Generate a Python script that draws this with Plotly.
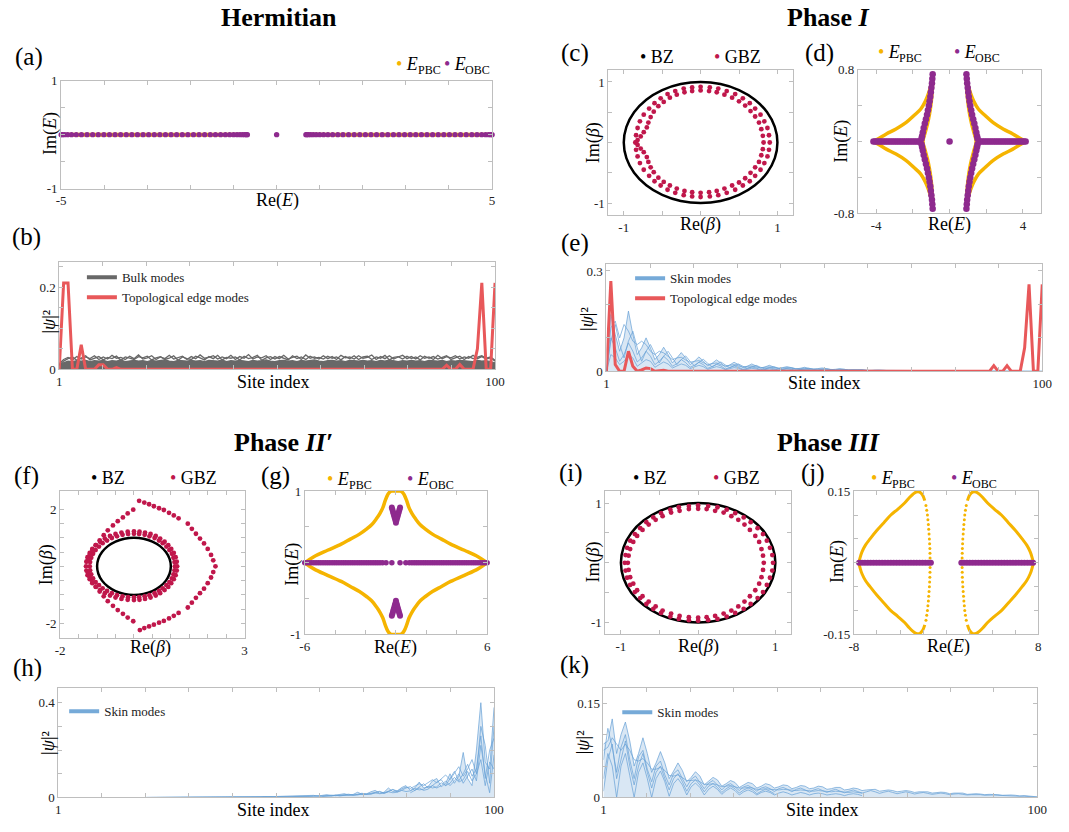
import plotly.graph_objects as go

W, H = 1069, 832
SERIF = "Liberation Serif"

C_PBC = "#F5B400"
C_OBC = "#8E2A8E"
C_GBZ = "#C0174B"
C_BZ = "#000000"
C_EDGE = "#E8585A"
C_BULK = "#686868"
C_SKIN = "rgba(104,162,214,0.9)"
C_SKIN_LEG = "#76AAD8"
C_SKIN_FILL = "rgba(118,170,216,0.28)"
C_AXIS = "#BEBEBE"

# ---------------------------------------------------------------- data
SITES = list(range(1, 101))

# (a) Hermitian spectrum
A_PBC_RE = [-5.0, -0.68, None, 0.68, 5.0]
A_PBC_IM = [0.0, 0.0, None, 0.0, 0.0]
A_OBC_RE = [-5.0, -4.97, -4.92, -4.85, -4.76, -4.65, -4.53, -4.40, -4.27, -4.14,
            -4.01, -3.88, -3.75, -3.62, -3.49, -3.36, -3.23, -3.10, -2.97, -2.84,
            -2.71, -2.58, -2.45, -2.32, -2.19, -2.06, -1.93, -1.80, -1.67, -1.54,
            -1.42, -1.30, -1.19, -1.09, -1.00, -0.92, -0.85, -0.79, -0.74, -0.70,
            -0.68, 0.0, 0.68,
            0.70, 0.74, 0.79, 0.85, 0.92, 1.00, 1.09, 1.19, 1.30, 1.42,
            1.54, 1.67, 1.80, 1.93, 2.06, 2.19, 2.32, 2.45, 2.58, 2.71,
            2.84, 2.97, 3.10, 3.23, 3.36, 3.49, 3.62, 3.75, 3.88, 4.01,
            4.14, 4.27, 4.40, 4.53, 4.65, 4.76, 4.85, 4.92, 4.97, 5.0]
A_OBC_IM = [0, 0, 0, 0, 0, 0, 0, 0, 0, 0,
            0, 0, 0, 0, 0, 0, 0, 0, 0, 0,
            0, 0, 0, 0, 0, 0, 0, 0, 0, 0,
            0, 0, 0, 0, 0, 0, 0, 0, 0, 0,
            0, 0, 0,
            0, 0, 0, 0, 0, 0, 0, 0, 0, 0,
            0, 0, 0, 0, 0, 0, 0, 0, 0, 0,
            0, 0, 0, 0, 0, 0, 0, 0, 0, 0,
            0, 0, 0, 0, 0, 0, 0, 0, 0, 0]

# (b) Hermitian profiles
BULK_FILL = [0.012, 0.017, 0.020, 0.019, 0.021, 0.020, 0.022, 0.019, 0.021, 0.020,
             0.022, 0.019, 0.021, 0.020, 0.023, 0.019, 0.021, 0.022, 0.020, 0.021,
             0.019, 0.022, 0.020, 0.021, 0.023, 0.020, 0.019, 0.022, 0.021, 0.020,
             0.022, 0.020, 0.021, 0.019, 0.022, 0.021, 0.020, 0.023, 0.019, 0.021,
             0.020, 0.022, 0.021, 0.019, 0.022, 0.020, 0.021, 0.023, 0.020, 0.019,
             0.021, 0.022, 0.020, 0.021, 0.019, 0.022, 0.020, 0.021, 0.023, 0.020,
             0.019, 0.021, 0.022, 0.020, 0.021, 0.019, 0.022, 0.021, 0.020, 0.022,
             0.020, 0.021, 0.019, 0.022, 0.020, 0.023, 0.021, 0.019, 0.021, 0.020,
             0.022, 0.020, 0.021, 0.019, 0.022, 0.021, 0.020, 0.022, 0.019, 0.021,
             0.020, 0.022, 0.021, 0.020, 0.019, 0.022, 0.020, 0.021, 0.019, 0.016]
BULK_1 = [0.014, 0.024, 0.029, 0.023, 0.031, 0.025, 0.030, 0.026, 0.033, 0.024,
          0.030, 0.025, 0.034, 0.027, 0.029, 0.024, 0.032, 0.026, 0.035, 0.025,
          0.028, 0.033, 0.024, 0.030, 0.026, 0.034, 0.025, 0.029, 0.032, 0.024,
          0.031, 0.026, 0.035, 0.027, 0.029, 0.033, 0.025, 0.030, 0.026, 0.034,
          0.024, 0.031, 0.027, 0.036, 0.025, 0.030, 0.028, 0.033, 0.024, 0.031,
          0.026, 0.034, 0.025, 0.029, 0.032, 0.024, 0.035, 0.027, 0.030, 0.025,
          0.033, 0.026, 0.031, 0.024, 0.034, 0.028, 0.030, 0.025, 0.033, 0.027,
          0.029, 0.035, 0.024, 0.031, 0.026, 0.033, 0.025, 0.030, 0.034, 0.026,
          0.031, 0.025, 0.033, 0.027, 0.030, 0.024, 0.034, 0.026, 0.031, 0.028,
          0.033, 0.025, 0.030, 0.027, 0.034, 0.026, 0.031, 0.025, 0.028, 0.020]
BULK_2 = [0.010, 0.020, 0.026, 0.030, 0.022, 0.028, 0.033, 0.023, 0.027, 0.031,
          0.023, 0.029, 0.026, 0.032, 0.022, 0.030, 0.027, 0.024, 0.031, 0.028,
          0.032, 0.023, 0.028, 0.031, 0.024, 0.027, 0.033, 0.022, 0.030, 0.026,
          0.024, 0.032, 0.028, 0.023, 0.031, 0.026, 0.034, 0.023, 0.029, 0.027,
          0.030, 0.023, 0.032, 0.026, 0.029, 0.034, 0.022, 0.028, 0.031, 0.025,
          0.031, 0.027, 0.023, 0.033, 0.026, 0.030, 0.024, 0.032, 0.027, 0.029,
          0.025, 0.032, 0.027, 0.030, 0.023, 0.031, 0.026, 0.033, 0.024, 0.030,
          0.032, 0.024, 0.030, 0.027, 0.034, 0.023, 0.029, 0.031, 0.025, 0.032,
          0.026, 0.030, 0.023, 0.032, 0.027, 0.031, 0.025, 0.029, 0.033, 0.024,
          0.029, 0.032, 0.024, 0.031, 0.026, 0.029, 0.033, 0.027, 0.030, 0.022]
EDGE_B = [0.0, 0.21, 0.21, 0.0, 0.0, 0.06, 0.0, 0.0, 0.0, 0.011,
          0.011, 0.0, 0.0, 0.004, 0.0, 0.0, 0.0, 0.0, 0.0, 0.0,
          0.0, 0.0, 0.0, 0.0, 0.0, 0.0, 0.0, 0.0, 0.0, 0.0,
          0.0, 0.0, 0.0, 0.0, 0.0, 0.0, 0.0, 0.0, 0.0, 0.0,
          0.0, 0.0, 0.0, 0.0, 0.0, 0.0, 0.0, 0.0, 0.0, 0.0,
          0.0, 0.0, 0.0, 0.0, 0.0, 0.0, 0.0, 0.0, 0.0, 0.0,
          0.0, 0.0, 0.0, 0.0, 0.0, 0.0, 0.0, 0.0, 0.0, 0.0,
          0.0, 0.0, 0.0, 0.0, 0.0, 0.0, 0.0, 0.0, 0.0, 0.0,
          0.0, 0.0, 0.0, 0.0, 0.0, 0.0, 0.0, 0.0, 0.01, 0.0,
          0.0, 0.012, 0.0, 0.0, 0.0, 0.05, 0.21, 0.0, 0.0, 0.21]

# BZ (unit circle) shared by (c), (f), (i)
BZ_RE = [1.0, 0.966, 0.866, 0.707, 0.5, 0.259, 0.0, -0.259, -0.5, -0.707, -0.866, -0.966, -1.0,
         -0.966, -0.866, -0.707, -0.5, -0.259, 0.0, 0.259, 0.5, 0.707, 0.866, 0.966, 1.0]
BZ_IM = [0.0, 0.259, 0.5, 0.707, 0.866, 0.966, 1.0, 0.966, 0.866, 0.707, 0.5, 0.259, 0.0,
         -0.259, -0.5, -0.707, -0.866, -0.966, -1.0, -0.966, -0.866, -0.707, -0.5, -0.259, 0.0]

# (c) Phase I GBZ
C_GBZ_OUT_RE = [0.90, 0.89, 0.87, 0.83, 0.78, 0.71, 0.64, 0.55, 0.45, 0.34, 0.23, 0.12, 0.00,
                -0.11, -0.22, -0.33, -0.43, -0.52, -0.60, -0.67, -0.74, -0.79, -0.82, -0.84, -0.85,
                -0.84, -0.82, -0.79, -0.74, -0.67, -0.60, -0.52, -0.43, -0.33, -0.22, -0.11, 0.00,
                0.12, 0.23, 0.34, 0.45, 0.55, 0.64, 0.71, 0.78, 0.83, 0.87, 0.89]
C_GBZ_OUT_IM = [0.00, 0.12, 0.24, 0.35, 0.46, 0.56, 0.65, 0.73, 0.80, 0.85, 0.89, 0.91, 0.92,
                0.91, 0.89, 0.85, 0.80, 0.73, 0.65, 0.56, 0.46, 0.35, 0.24, 0.12, 0.00,
                -0.12, -0.23, -0.34, -0.45, -0.55, -0.64, -0.71, -0.78, -0.83, -0.87, -0.89, -0.90,
                -0.89, -0.87, -0.83, -0.78, -0.71, -0.64, -0.55, -0.45, -0.34, -0.23, -0.12]
C_GBZ_IN_RE = [0.82, 0.81, 0.79, 0.76, 0.71, 0.65, 0.58, 0.50, 0.41, 0.31, 0.21, 0.11, 0.00,
               -0.11, -0.21, -0.31, -0.40, -0.48, -0.55, -0.61, -0.65, -0.68, -0.70, -0.74, -0.78, -0.82, -0.84,
               -0.82, -0.78, -0.74, -0.70, -0.68, -0.65, -0.61, -0.55, -0.48, -0.40, -0.31, -0.21, -0.11, 0.00,
               0.11, 0.21, 0.31, 0.41, 0.50, 0.58, 0.65, 0.71, 0.76, 0.79, 0.81]
C_GBZ_IN_IM = [0.00, 0.11, 0.22, 0.33, 0.43, 0.52, 0.61, 0.68, 0.74, 0.79, 0.83, 0.85, 0.86,
               0.85, 0.83, 0.79, 0.74, 0.67, 0.60, 0.51, 0.42, 0.33, 0.25, 0.17, 0.10, 0.04, 0.00,
               -0.04, -0.10, -0.16, -0.24, -0.32, -0.41, -0.49, -0.58, -0.65, -0.71, -0.76, -0.80, -0.82, -0.83,
               -0.82, -0.80, -0.76, -0.71, -0.66, -0.59, -0.50, -0.41, -0.32, -0.21, -0.11]

# (d) Phase I spectra
D_PBC_RE = [-0.92, -1.0, -1.14, -1.32, -1.58, -1.94, -2.38, -2.92, -3.45, -3.89, -4.16,
            -3.89, -3.45, -2.92, -2.38, -1.94, -1.58, -1.32, -1.14, -1.0, -0.92, None,
            -0.92, -0.93, -0.96, -1.01, -1.09, -1.20, -1.33, -1.45, -1.33, -1.20, -1.09, -1.01, -0.96, -0.93, -0.92, None,
            0.92, 1.0, 1.14, 1.32, 1.58, 1.94, 2.38, 2.92, 3.45, 3.89, 4.16,
            3.89, 3.45, 2.92, 2.38, 1.94, 1.58, 1.32, 1.14, 1.0, 0.92, None,
            0.92, 0.93, 0.96, 1.01, 1.09, 1.20, 1.33, 1.45, 1.33, 1.20, 1.09, 1.01, 0.96, 0.93, 0.92]
D_PBC_IM = [0.76, 0.64, 0.54, 0.45, 0.36, 0.29, 0.21, 0.14, 0.085, 0.03, 0.0,
            -0.03, -0.085, -0.14, -0.21, -0.29, -0.36, -0.45, -0.54, -0.64, -0.76, None,
            -0.76, -0.64, -0.53, -0.42, -0.31, -0.2, -0.1, 0.0, 0.1, 0.2, 0.31, 0.42, 0.53, 0.64, 0.76, None,
            0.76, 0.64, 0.54, 0.45, 0.36, 0.29, 0.21, 0.14, 0.085, 0.03, 0.0,
            -0.03, -0.085, -0.14, -0.21, -0.29, -0.36, -0.45, -0.54, -0.64, -0.76, None,
            -0.76, -0.64, -0.53, -0.42, -0.31, -0.2, -0.1, 0.0, 0.1, 0.2, 0.31, 0.42, 0.53, 0.64, 0.76]
D_OBC_H_RE = [-4.15, -4.05, -3.95, -3.85, -3.75, -3.65, -3.55, -3.45, -3.35, -3.25,
              -3.15, -3.05, -2.95, -2.85, -2.75, -2.65, -2.55, -2.45, -2.35, -2.25,
              -2.15, -2.05, -1.95, -1.85, -1.75, -1.65, 0.0,
              1.65, 1.75, 1.85, 1.95, 2.05, 2.15, 2.25, 2.35, 2.45, 2.55,
              2.65, 2.75, 2.85, 2.95, 3.05, 3.15, 3.25, 3.35, 3.45, 3.55,
              3.65, 3.75, 3.85, 3.95, 4.05, 4.15]
D_OBC_H_IM = [0, 0, 0, 0, 0, 0, 0, 0, 0, 0,
              0, 0, 0, 0, 0, 0, 0, 0, 0, 0,
              0, 0, 0, 0, 0, 0, 0,
              0, 0, 0, 0, 0, 0, 0, 0, 0, 0,
              0, 0, 0, 0, 0, 0, 0, 0, 0, 0,
              0, 0, 0, 0, 0, 0]
D_OBC_V_RE = [-0.92, -0.94, -0.96, -0.99, -1.02, -1.05, -1.09, -1.13, -1.18, -1.23, -1.29, -1.35, -1.41, -1.46, -1.50, -1.53,
              -0.92, -0.94, -0.96, -0.99, -1.02, -1.05, -1.09, -1.13, -1.18, -1.23, -1.29, -1.35, -1.41, -1.46, -1.50, -1.53,
              0.92, 0.94, 0.96, 0.99, 1.02, 1.05, 1.09, 1.13, 1.18, 1.23, 1.29, 1.35, 1.41, 1.46, 1.50, 1.53,
              0.92, 0.94, 0.96, 0.99, 1.02, 1.05, 1.09, 1.13, 1.18, 1.23, 1.29, 1.35, 1.41, 1.46, 1.50, 1.53]
D_OBC_V_IM = [0.75, 0.70, 0.65, 0.60, 0.55, 0.50, 0.45, 0.40, 0.35, 0.30, 0.25, 0.20, 0.15, 0.10, 0.06, 0.03,
              -0.75, -0.70, -0.65, -0.60, -0.55, -0.50, -0.45, -0.40, -0.35, -0.30, -0.25, -0.20, -0.15, -0.10, -0.06, -0.03,
              0.75, 0.70, 0.65, 0.60, 0.55, 0.50, 0.45, 0.40, 0.35, 0.30, 0.25, 0.20, 0.15, 0.10, 0.06, 0.03,
              -0.75, -0.70, -0.65, -0.60, -0.55, -0.50, -0.45, -0.40, -0.35, -0.30, -0.25, -0.20, -0.15, -0.10, -0.06, -0.03]

# (e) Phase I profiles
SKIN_E1 = [0.0, 0.17, 0.11, 0.06, 0.10, 0.18, 0.11, 0.05, 0.07, 0.10,
           0.07, 0.035, 0.05, 0.072, 0.05, 0.025, 0.04, 0.056, 0.04, 0.02,
           0.03, 0.043, 0.031, 0.016, 0.024, 0.034, 0.025, 0.013, 0.019, 0.027,
           0.02, 0.011, 0.015, 0.022, 0.016, 0.009, 0.013, 0.018, 0.013, 0.008,
           0.011, 0.014, 0.011, 0.007, 0.009, 0.012, 0.009, 0.006, 0.008, 0.010,
           0.008, 0.005, 0.006, 0.008, 0.006, 0.004, 0.005, 0.006, 0.005, 0.003,
           0.004, 0.005, 0.004, 0.003, 0.003, 0.004, 0.003, 0.002, 0.002, 0.003,
           0.002, 0.002, 0.002, 0.002, 0.0015, 0.0015, 0.0015, 0.0015, 0.001, 0.001,
           0.001, 0.001, 0.001, 0.0008, 0.0008, 0.0008, 0.0007, 0.0006, 0.0006, 0.0005,
           0.0005, 0.0005, 0.0004, 0.0004, 0.0003, 0.0003, 0.0003, 0.0002, 0.0002, 0.0001]
SKIN_E2 = [0.0, 0.09, 0.14, 0.08, 0.04, 0.09, 0.12, 0.07, 0.03, 0.06,
           0.08, 0.05, 0.025, 0.045, 0.06, 0.04, 0.02, 0.035, 0.046, 0.03,
           0.016, 0.027, 0.036, 0.024, 0.013, 0.021, 0.028, 0.019, 0.011, 0.017,
           0.022, 0.015, 0.009, 0.013, 0.018, 0.012, 0.007, 0.011, 0.014, 0.010,
           0.006, 0.009, 0.011, 0.008, 0.005, 0.007, 0.009, 0.006, 0.004, 0.006,
           0.007, 0.005, 0.003, 0.005, 0.006, 0.004, 0.003, 0.004, 0.005, 0.003,
           0.002, 0.003, 0.004, 0.003, 0.002, 0.002, 0.003, 0.002, 0.0015, 0.002,
           0.002, 0.0015, 0.001, 0.0015, 0.0015, 0.001, 0.001, 0.001, 0.001, 0.0008,
           0.0008, 0.0008, 0.0006, 0.0006, 0.0006, 0.0005, 0.0005, 0.0004, 0.0004, 0.0004,
           0.0003, 0.0003, 0.0003, 0.0002, 0.0002, 0.0002, 0.0002, 0.0001, 0.0001, 0.0001]
SKIN_E3 = [0.0, 0.10, 0.07, 0.03, 0.05, 0.085, 0.06, 0.028, 0.04, 0.06,
           0.045, 0.02, 0.03, 0.045, 0.033, 0.015, 0.023, 0.035, 0.026, 0.012,
           0.018, 0.027, 0.02, 0.009, 0.014, 0.021, 0.016, 0.007, 0.011, 0.016,
           0.012, 0.006, 0.009, 0.013, 0.01, 0.005, 0.007, 0.01, 0.008, 0.004,
           0.006, 0.008, 0.006, 0.003, 0.005, 0.006, 0.005, 0.003, 0.004, 0.005,
           0.004, 0.002, 0.003, 0.004, 0.003, 0.002, 0.002, 0.003, 0.002, 0.001]
SKIN_E4 = [0.0, 0.13, 0.15, 0.10, 0.14, 0.12, 0.09, 0.08, 0.09, 0.08,
           0.06, 0.05, 0.06, 0.055, 0.045, 0.035, 0.04, 0.042, 0.034, 0.027,
           0.03, 0.032, 0.026, 0.02, 0.023, 0.025, 0.02, 0.016, 0.018, 0.02,
           0.016, 0.013, 0.015, 0.016, 0.013, 0.011, 0.012, 0.013, 0.011, 0.009,
           0.01, 0.011, 0.009, 0.007, 0.008, 0.009, 0.007, 0.006, 0.007, 0.007,
           0.006, 0.005, 0.005, 0.006, 0.005, 0.004, 0.004, 0.004, 0.003, 0.003]
SKIN_E5 = [0.0, 0.05, 0.04, 0.02, 0.03, 0.05, 0.04, 0.015, 0.025, 0.035,
           0.03, 0.012, 0.02, 0.028, 0.022, 0.01, 0.016, 0.022, 0.018, 0.008,
           0.013, 0.018, 0.014, 0.006, 0.01, 0.014, 0.011, 0.005, 0.008, 0.011,
           0.009, 0.004, 0.006, 0.009, 0.007, 0.003, 0.005, 0.007, 0.005, 0.003,
           0.004, 0.005, 0.004, 0.002, 0.003, 0.004, 0.003, 0.002, 0.003, 0.003,
           0.002, 0.001, 0.002, 0.002, 0.002, 0.001, 0.001, 0.002, 0.001, 0.001]
EDGE_E = [0.0, 0.27, 0.02, 0.0, 0.0, 0.06, 0.015, 0.0, 0.004, 0.01,
          0.008, 0.0, 0.002, 0.003, 0.0, 0.0, 0.0, 0.0, 0.0, 0.0,
          0.0, 0.0, 0.0, 0.0, 0.0, 0.0, 0.0, 0.0, 0.0, 0.0,
          0.0, 0.0, 0.0, 0.0, 0.0, 0.0, 0.0, 0.0, 0.0, 0.0,
          0.0, 0.0, 0.0, 0.0, 0.0, 0.0, 0.0, 0.0, 0.0, 0.0,
          0.0, 0.0, 0.0, 0.0, 0.0, 0.0, 0.0, 0.0, 0.0, 0.0,
          0.0, 0.0, 0.0, 0.0, 0.0, 0.0, 0.0, 0.0, 0.0, 0.0,
          0.0, 0.0, 0.0, 0.0, 0.0, 0.0, 0.0, 0.0, 0.0, 0.0,
          0.0, 0.0, 0.0, 0.0, 0.0, 0.0, 0.0, 0.0, 0.017, 0.0,
          0.0, 0.017, 0.0, 0.0, 0.0, 0.07, 0.26, 0.0, 0.0, 0.26]

# (f) Phase II' GBZ
F_GBZ_A_RE = [1.17, 1.16, 1.13, 1.08, 1.01, 0.93, 0.83, 0.71, 0.59, 0.45, 0.30, 0.15, 0.00,
              -0.17, -0.34, -0.50, -0.65, -0.79, -0.92, -1.03, -1.13, -1.20, -1.26, -1.29, -1.30,
              -1.29, -1.26, -1.20, -1.13, -1.03, -0.92, -0.79, -0.65, -0.50, -0.34, -0.17, 0.00,
              0.15, 0.30, 0.45, 0.59, 0.71, 0.83, 0.93, 1.01, 1.08, 1.13, 1.16]
F_GBZ_A_IM = [0.00, 0.16, 0.32, 0.47, 0.61, 0.74, 0.86, 0.97, 1.06, 1.13, 1.18, 1.21, 1.22,
              1.21, 1.18, 1.13, 1.06, 0.97, 0.86, 0.74, 0.61, 0.47, 0.32, 0.16, 0.00,
              -0.15, -0.31, -0.45, -0.59, -0.72, -0.83, -0.94, -1.02, -1.09, -1.14, -1.17, -1.18,
              -1.17, -1.14, -1.09, -1.02, -0.94, -0.83, -0.72, -0.59, -0.45, -0.31, -0.15]
F_GBZ_B_RE = [1.11, 1.10, 1.07, 1.03, 0.96, 0.88, 0.78, 0.68, 0.56, 0.42, 0.29, 0.14, 0.00,
              -0.16, -0.31, -0.46, -0.60, -0.73, -0.85, -0.95, -1.04, -1.11, -1.16, -1.19, -1.20,
              -1.19, -1.16, -1.11, -1.04, -0.95, -0.85, -0.73, -0.60, -0.46, -0.31, -0.16, 0.00,
              0.14, 0.29, 0.42, 0.56, 0.68, 0.78, 0.88, 0.96, 1.03, 1.07, 1.10]
F_GBZ_B_IM = [0.00, 0.15, 0.30, 0.44, 0.57, 0.69, 0.81, 0.90, 0.99, 1.05, 1.10, 1.13, 1.14,
              1.13, 1.10, 1.05, 0.99, 0.90, 0.81, 0.69, 0.57, 0.44, 0.30, 0.15, 0.00,
              -0.14, -0.28, -0.42, -0.55, -0.66, -0.77, -0.86, -0.94, -1.01, -1.05, -1.08, -1.09,
              -1.08, -1.05, -1.01, -0.94, -0.86, -0.77, -0.66, -0.55, -0.42, -0.28, -0.14]
F_GBZ_C_RE = [0.14, 0.28, 0.41, 0.54, 0.68, 0.81, 0.95, 1.08, 1.21, 1.46, 1.57, 1.68, 1.79, 1.90, 2.00, 2.09, 2.15, 2.21,
              2.15, 2.09, 2.00, 1.90, 1.79, 1.68, 1.57, 1.46, 1.21, 1.08, 0.95, 0.81, 0.68, 0.54, 0.41, 0.28, 0.16,
              -0.02, -0.17, -0.30, -0.44, -0.57, -0.71, -0.82, -0.93, -1.04, -1.13, -1.20, -1.25,
              -1.25, -1.20, -1.13, -1.04, -0.93, -0.82, -0.71, -0.57, -0.44, -0.30, -0.17, -0.02]
F_GBZ_C_IM = [2.29, 2.23, 2.17, 2.10, 2.03, 1.97, 1.87, 1.78, 1.68, 1.49, 1.31, 1.14, 0.97, 0.80, 0.61, 0.40, 0.21, 0.0,
              -0.20, -0.39, -0.59, -0.78, -0.94, -1.10, -1.27, -1.44, -1.63, -1.73, -1.82, -1.91, -1.97, -2.04, -2.10, -2.16, -2.23,
              1.98, 1.85, 1.71, 1.58, 1.43, 1.26, 1.09, 0.91, 0.74, 0.57, 0.40, 0.23,
              -0.22, -0.39, -0.55, -0.71, -0.88, -1.05, -1.22, -1.38, -1.53, -1.66, -1.79, -1.92]

# (g) Phase II' spectra
G_PBC_RE = [6.0, 5.4, 4.5, 3.6, 3.0, 2.4, 1.94, 1.6, 1.3, 1.05, 0.86, 0.7, 0.54, 0.42, 0.3, 0.15, 0.0,
            -0.15, -0.3, -0.42, -0.54, -0.7, -0.86, -1.05, -1.3, -1.6, -1.94, -2.4, -3.0, -3.6, -4.5, -5.4, -6.0, None,
            -6.0, -5.4, -4.5, -3.6, -3.0, -2.4, -1.94, -1.6, -1.3, -1.05, -0.86, -0.7, -0.54, -0.42, -0.3, -0.15, 0.0,
            0.15, 0.3, 0.42, 0.54, 0.7, 0.86, 1.05, 1.3, 1.6, 1.94, 2.4, 3.0, 3.6, 4.5, 5.4, 6.0]
G_PBC_IM = [0.0, 0.085, 0.175, 0.26, 0.33, 0.4, 0.47, 0.53, 0.61, 0.69, 0.77, 0.87, 0.95, 0.985, 1.0, 1.0, 1.0,
            1.0, 1.0, 0.985, 0.95, 0.87, 0.77, 0.69, 0.61, 0.53, 0.47, 0.4, 0.33, 0.26, 0.175, 0.085, 0.0, None,
            0.0, -0.085, -0.175, -0.26, -0.33, -0.4, -0.47, -0.53, -0.61, -0.69, -0.77, -0.87, -0.95, -0.985, -1.0, -1.0, -1.0,
            -1.0, -1.0, -0.985, -0.95, -0.87, -0.77, -0.69, -0.61, -0.53, -0.47, -0.4, -0.33, -0.26, -0.175, -0.085, 0.0]
G_OBC_H_RE = [-6.0, -5.85, -5.7, -5.55, -5.4, -5.25, -5.1, -4.95, -4.8, -4.65,
              -4.5, -4.35, -4.2, -4.05, -3.9, -3.75, -3.6, -3.45, -3.3, -3.15,
              -3.0, -2.85, -2.7, -2.55, -2.4, -2.25, -2.1, -1.95, -1.8, -1.65,
              -1.5, -1.35, -1.2, -1.05, -0.88, -0.65, -0.27,
              0.27, 0.65, 0.88, 1.05, 1.2, 1.35, 1.5,
              1.65, 1.8, 1.95, 2.1, 2.25, 2.4, 2.55, 2.7, 2.85, 3.0,
              3.15, 3.3, 3.45, 3.6, 3.75, 3.9, 4.05, 4.2, 4.35, 4.5,
              4.65, 4.8, 4.95, 5.1, 5.25, 5.4, 5.55, 5.7, 5.85, 6.0]
G_OBC_H_IM = [0, 0, 0, 0, 0, 0, 0, 0, 0, 0,
              0, 0, 0, 0, 0, 0, 0, 0, 0, 0,
              0, 0, 0, 0, 0, 0, 0, 0, 0, 0,
              0, 0, 0, 0, 0, 0, 0,
              0, 0, 0, 0, 0, 0, 0,
              0, 0, 0, 0, 0, 0, 0, 0, 0, 0,
              0, 0, 0, 0, 0, 0, 0, 0, 0, 0,
              0, 0, 0, 0, 0, 0, 0, 0, 0, 0]
G_OBC_V_RE = [-0.27, -0.23, -0.19, -0.15, -0.11, -0.07, -0.03, 0.0, 0.03, 0.07, 0.11, 0.15, 0.19, 0.23, 0.27,
              -0.27, -0.23, -0.19, -0.15, -0.11, -0.07, -0.03, 0.0, 0.03, 0.07, 0.11, 0.15, 0.19, 0.23, 0.27]
G_OBC_V_IM = [0.77, 0.74, 0.71, 0.68, 0.65, 0.62, 0.59, 0.56, 0.59, 0.62, 0.65, 0.68, 0.71, 0.74, 0.77,
              -0.74, -0.71, -0.68, -0.65, -0.62, -0.59, -0.56, -0.53, -0.56, -0.59, -0.62, -0.65, -0.68, -0.71, -0.74]

# (h) Phase II' profiles (sites 21..100)
SKIN_H1 = [0.0002, 0.0002, 0.0003, 0.0002, 0.0003, 0.0004, 0.0005, 0.0003, 0.0004, 0.0006,
           0.0008, 0.0005, 0.0007, 0.001, 0.0007, 0.0008, 0.0012, 0.0015, 0.001, 0.0012,
           0.002, 0.0014, 0.0015, 0.0022, 0.003, 0.002, 0.0025, 0.004, 0.0028, 0.003,
           0.0045, 0.005, 0.0035, 0.005, 0.007, 0.005, 0.005, 0.007, 0.009, 0.006,
           0.008, 0.012, 0.008, 0.009, 0.013, 0.016, 0.01, 0.013, 0.022, 0.014,
           0.015, 0.024, 0.03, 0.018, 0.022, 0.04, 0.025, 0.027, 0.042, 0.05,
           0.03, 0.04, 0.065, 0.04, 0.045, 0.07, 0.08, 0.045, 0.06, 0.1,
           0.06, 0.09, 0.19, 0.08, 0.05, 0.2, 0.40, 0.15, 0.12, 0.38]
SKIN_H2 = [0.0001, 0.0002, 0.0002, 0.0003, 0.0002, 0.0003, 0.0002, 0.0004, 0.0003, 0.0003,
           0.0005, 0.0006, 0.0004, 0.0006, 0.0008, 0.0006, 0.0008, 0.001, 0.0012, 0.0009,
           0.0013, 0.0018, 0.0012, 0.0016, 0.002, 0.0025, 0.0018, 0.0022, 0.0032, 0.0025,
           0.003, 0.004, 0.005, 0.0035, 0.0045, 0.006, 0.0045, 0.005, 0.007, 0.008,
           0.0055, 0.0075, 0.01, 0.0075, 0.009, 0.012, 0.014, 0.009, 0.013, 0.018,
           0.013, 0.016, 0.022, 0.026, 0.017, 0.025, 0.034, 0.024, 0.03, 0.04,
           0.046, 0.03, 0.045, 0.058, 0.04, 0.05, 0.065, 0.075, 0.05, 0.08,
           0.11, 0.07, 0.1, 0.14, 0.09, 0.12, 0.26, 0.08, 0.2, 0.25]
SKIN_H3 = [0.0001, 0.0001, 0.0002, 0.0001, 0.0002, 0.0002, 0.0003, 0.0003, 0.0002, 0.0004,
           0.0004, 0.0003, 0.0005, 0.0006, 0.0005, 0.0006, 0.0008, 0.0007, 0.0008, 0.001,
           0.0009, 0.001, 0.0013, 0.0012, 0.0014, 0.0018, 0.0016, 0.0018, 0.0024, 0.002,
           0.0024, 0.0032, 0.0028, 0.003, 0.0042, 0.0036, 0.004, 0.0055, 0.0048, 0.0052,
           0.007, 0.0062, 0.0066, 0.009, 0.0078, 0.0085, 0.012, 0.01, 0.011, 0.015,
           0.013, 0.014, 0.019, 0.016, 0.018, 0.024, 0.02, 0.022, 0.03, 0.025,
           0.028, 0.038, 0.032, 0.035, 0.048, 0.04, 0.045, 0.062, 0.05, 0.06,
           0.085, 0.065, 0.075, 0.11, 0.07, 0.1, 0.16, 0.05, 0.15, 0.12]
SKIN_H4 = [0.006, 0.005, 0.007, 0.009, 0.007, 0.009, 0.012, 0.011, 0.012, 0.016,
           0.017, 0.015, 0.02, 0.024, 0.02, 0.027, 0.033, 0.028, 0.036, 0.044,
           0.038, 0.048, 0.058, 0.05, 0.062, 0.075, 0.062, 0.08, 0.095, 0.075,
           0.1, 0.13, 0.09, 0.12, 0.16, 0.1, 0.3, 0.22, 0.06, 0.3]
SKIN_H5 = [0.02, 0.03, 0.04, 0.03, 0.035, 0.05, 0.04, 0.05, 0.07, 0.05,
           0.07, 0.1, 0.06, 0.09, 0.12, 0.07, 0.22, 0.1, 0.02, 0.18]

# (i) Phase III GBZ
I_GBZ_OUT_RE = [0.97, 0.96, 0.93, 0.89, 0.84, 0.77, 0.68, 0.59, 0.48, 0.37, 0.25, 0.13, 0.00,
                -0.12, -0.25, -0.36, -0.48, -0.58, -0.67, -0.75, -0.82, -0.88, -0.92, -0.94, -0.95,
                -0.94, -0.92, -0.88, -0.82, -0.75, -0.67, -0.58, -0.48, -0.36, -0.25, -0.12, 0.00,
                0.13, 0.25, 0.37, 0.48, 0.59, 0.68, 0.77, 0.84, 0.89, 0.93, 0.96]
I_GBZ_OUT_IM = [0.00, 0.13, 0.25, 0.37, 0.48, 0.58, 0.68, 0.76, 0.83, 0.89, 0.93, 0.95, 0.96,
                0.95, 0.93, 0.89, 0.83, 0.76, 0.68, 0.58, 0.48, 0.37, 0.25, 0.13, 0.00,
                -0.13, -0.25, -0.37, -0.49, -0.59, -0.69, -0.77, -0.84, -0.90, -0.94, -0.96, -0.97,
                -0.96, -0.94, -0.90, -0.84, -0.77, -0.69, -0.59, -0.49, -0.37, -0.25, -0.13]
I_GBZ_IN_RE = [0.85, 0.84, 0.82, 0.79, 0.74, 0.67, 0.60, 0.52, 0.43, 0.33, 0.22, 0.11, 0.00,
               -0.12, -0.24, -0.35, -0.46, -0.55, -0.64, -0.72, -0.79, -0.84, -0.88, -0.90, -0.91,
               -0.90, -0.88, -0.84, -0.79, -0.72, -0.64, -0.55, -0.46, -0.35, -0.24, -0.12, 0.00,
               0.11, 0.22, 0.33, 0.43, 0.52, 0.60, 0.67, 0.74, 0.79, 0.82, 0.84]
I_GBZ_IN_IM = [0.00, 0.12, 0.23, 0.35, 0.45, 0.55, 0.64, 0.72, 0.78, 0.84, 0.87, 0.90, 0.905,
               0.90, 0.87, 0.84, 0.78, 0.72, 0.64, 0.55, 0.45, 0.35, 0.23, 0.12, 0.00,
               -0.12, -0.24, -0.35, -0.46, -0.56, -0.65, -0.73, -0.80, -0.85, -0.89, -0.91, -0.92,
               -0.91, -0.89, -0.85, -0.80, -0.73, -0.65, -0.56, -0.46, -0.35, -0.24, -0.12]

# (j) Phase III spectra
J_PBC_RE = [1.85, 2.05, 2.3, 2.6, 2.9, 3.2, 3.6, 4.2, 4.8, 5.4, 6.0, 6.6, 7.0, 7.3, 7.45, 7.56,
            7.45, 7.3, 7.0, 6.6, 6.0, 5.4, 4.8, 4.2, 3.6, 3.2, 2.9, 2.6, 2.3, 2.05, 1.85, None,
            -1.85, -2.05, -2.3, -2.6, -2.9, -3.2, -3.6, -4.2, -4.8, -5.4, -6.0, -6.6, -7.0, -7.3, -7.45, -7.56,
            -7.45, -7.3, -7.0, -6.6, -6.0, -5.4, -4.8, -4.2, -3.6, -3.2, -2.9, -2.6, -2.3, -2.05, -1.85]
J_PBC_IM = [0.13, 0.142, 0.148, 0.148, 0.143, 0.136, 0.125, 0.112, 0.1, 0.084, 0.068, 0.05, 0.037, 0.023, 0.012, 0.0,
            -0.012, -0.023, -0.037, -0.05, -0.068, -0.084, -0.1, -0.112, -0.125, -0.136, -0.143, -0.148, -0.148, -0.142, -0.13, None,
            0.13, 0.142, 0.148, 0.148, 0.143, 0.136, 0.125, 0.112, 0.1, 0.084, 0.068, 0.05, 0.037, 0.023, 0.012, 0.0,
            -0.012, -0.023, -0.037, -0.05, -0.068, -0.084, -0.1, -0.112, -0.125, -0.136, -0.143, -0.148, -0.148, -0.142, -0.13]
J_PBC_DOT_RE = [1.75, 1.68, 1.62, 1.58, 1.54, 1.51, 1.48, 1.45, 1.43, 1.41, 1.40, 1.39, 1.39,
                1.39, 1.40, 1.41, 1.43, 1.45, 1.48, 1.51, 1.54, 1.58, 1.62, 1.68, 1.75,
                -1.75, -1.68, -1.62, -1.58, -1.54, -1.51, -1.48, -1.45, -1.43, -1.41, -1.40, -1.39, -1.39,
                -1.39, -1.40, -1.41, -1.43, -1.45, -1.48, -1.51, -1.54, -1.58, -1.62, -1.68, -1.75]
J_PBC_DOT_IM = [0.12, 0.11, 0.10, 0.09, 0.08, 0.07, 0.06, 0.05, 0.04, 0.03, 0.02, 0.01, 0.0,
                -0.01, -0.02, -0.03, -0.04, -0.05, -0.06, -0.07, -0.08, -0.09, -0.10, -0.11, -0.12,
                0.12, 0.11, 0.10, 0.09, 0.08, 0.07, 0.06, 0.05, 0.04, 0.03, 0.02, 0.01, 0.0,
                -0.01, -0.02, -0.03, -0.04, -0.05, -0.06, -0.07, -0.08, -0.09, -0.10, -0.11, -0.12]
J_OBC_RE = [-7.55, -7.3, -7.05, -6.8, -6.55, -6.3, -6.05, -5.8, -5.55, -5.3,
            -5.05, -4.8, -4.55, -4.3, -4.05, -3.8, -3.55, -3.3, -3.05, -2.8,
            -2.55, -2.3, -2.05, -1.8, -1.55, -1.32,
            1.32, 1.55, 1.8, 2.05, 2.3, 2.55, 2.8, 3.05, 3.3, 3.55,
            3.8, 4.05, 4.3, 4.55, 4.8, 5.05, 5.3, 5.55, 5.8, 6.05,
            6.3, 6.55, 6.8, 7.05, 7.3, 7.55]
J_OBC_IM = [0, 0, 0, 0, 0, 0, 0, 0, 0, 0,
            0, 0, 0, 0, 0, 0, 0, 0, 0, 0,
            0, 0, 0, 0, 0, 0,
            0, 0, 0, 0, 0, 0, 0, 0, 0, 0,
            0, 0, 0, 0, 0, 0, 0, 0, 0, 0,
            0, 0, 0, 0, 0, 0]

# (k) Phase III profiles
SKIN_K1 = [0.085, 0.09, 0.125, 0.07, 0.1, 0.12, 0.09, 0.05, 0.07, 0.095,
           0.07, 0.04, 0.055, 0.073, 0.055, 0.03, 0.042, 0.055, 0.043, 0.025,
           0.032, 0.041, 0.034, 0.02, 0.026, 0.032, 0.028, 0.018, 0.022, 0.027,
           0.024, 0.016, 0.02, 0.024, 0.022, 0.015, 0.018, 0.022, 0.02, 0.015,
           0.017, 0.02, 0.019, 0.014, 0.016, 0.019, 0.018, 0.014, 0.015, 0.018,
           0.017, 0.013, 0.014, 0.016, 0.016, 0.012, 0.013, 0.015, 0.014, 0.011,
           0.012, 0.013, 0.013, 0.01, 0.011, 0.012, 0.011, 0.009, 0.01, 0.011,
           0.01, 0.008, 0.009, 0.0095, 0.009, 0.007, 0.008, 0.0085, 0.008, 0.006,
           0.007, 0.0075, 0.007, 0.005, 0.006, 0.006, 0.0055, 0.0045, 0.005, 0.005,
           0.0045, 0.0035, 0.004, 0.004, 0.0035, 0.0025, 0.003, 0.0025, 0.002, 0.001]
SKIN_K2 = [0.06, 0.11, 0.08, 0.04, 0.08, 0.1, 0.06, 0.03, 0.065, 0.075,
           0.045, 0.025, 0.05, 0.058, 0.036, 0.02, 0.038, 0.044, 0.03, 0.017,
           0.029, 0.034, 0.024, 0.014, 0.023, 0.027, 0.02, 0.012, 0.019, 0.022,
           0.017, 0.011, 0.017, 0.019, 0.015, 0.01, 0.015, 0.017, 0.014, 0.0095,
           0.014, 0.016, 0.013, 0.009, 0.013, 0.015, 0.012, 0.0085, 0.012, 0.014,
           0.011, 0.008, 0.011, 0.013, 0.01, 0.0075, 0.01, 0.012, 0.0095, 0.007,
           0.009, 0.011, 0.009, 0.0065, 0.0085, 0.01, 0.008, 0.006, 0.0075, 0.009,
           0.0075, 0.0055, 0.007, 0.008, 0.0065, 0.005, 0.006, 0.007, 0.006, 0.0045,
           0.0055, 0.006, 0.005, 0.004, 0.0045, 0.005, 0.0045, 0.0035, 0.004, 0.004,
           0.0035, 0.003, 0.003, 0.003, 0.0025, 0.002, 0.002, 0.0015, 0.001, 0.0005]
SKIN_K3 = [0.03, 0.07, 0.05, 0.0, 0.05, 0.07, 0.035, 0.0, 0.04, 0.055,
           0.03, 0.0, 0.03, 0.042, 0.025, 0.002, 0.022, 0.03, 0.02, 0.004,
           0.017, 0.023, 0.016, 0.004, 0.013, 0.018, 0.013, 0.005, 0.011, 0.015,
           0.011, 0.004, 0.009, 0.012, 0.009, 0.004, 0.008, 0.01, 0.008, 0.004,
           0.007, 0.009, 0.007, 0.004, 0.006, 0.008, 0.0065, 0.004, 0.006, 0.007,
           0.006, 0.004, 0.005, 0.006, 0.005, 0.003, 0.005, 0.006, 0.005, 0.003]
SKIN_K4 = [0.075, 0.08, 0.095, 0.085, 0.075, 0.085, 0.075, 0.06, 0.058, 0.062,
           0.055, 0.045, 0.045, 0.048, 0.043, 0.035, 0.034, 0.036, 0.032, 0.027,
           0.027, 0.028, 0.025, 0.021, 0.021, 0.022, 0.02, 0.017, 0.018, 0.019,
           0.017, 0.015, 0.015, 0.016, 0.015, 0.013, 0.013, 0.014, 0.013, 0.012,
           0.012, 0.013, 0.012, 0.011, 0.011, 0.012, 0.011, 0.01, 0.01, 0.011,
           0.01, 0.009, 0.009, 0.01, 0.009, 0.008, 0.008, 0.009, 0.008, 0.007]
SKIN_K5 = [0.01, 0.06, 0.085, 0.03, 0.06, 0.09, 0.05, 0.02, 0.05, 0.07,
           0.04, 0.015, 0.04, 0.05, 0.03, 0.012, 0.03, 0.038, 0.025, 0.01,
           0.022, 0.028, 0.02, 0.009, 0.018, 0.022, 0.016, 0.008, 0.014, 0.018,
           0.014, 0.007, 0.012, 0.015, 0.012, 0.006, 0.01, 0.013, 0.01, 0.006]

# ---------------------------------------------------------------- layout helpers
AX = dict(showline=True, linecolor=C_AXIS, linewidth=1, mirror="ticks", ticks="inside",
          ticklen=4, tickwidth=1, tickcolor=C_AXIS, showgrid=False, zeroline=False,
          tickfont=dict(family=SERIF, size=13, color="#222"), fixedrange=True)

layout_axes = {}


def add_axes(n, box, xr, yr, xlab, xminor, ylab, yminor):
    x0, x1, y0, y1 = box
    sx = "" if n == 1 else str(n)
    mn = lambda vals: dict(tickmode="array", tickvals=vals, ticks="inside", ticklen=4,
                           tickwidth=1, tickcolor=C_AXIS, showgrid=False)
    layout_axes["xaxis" + sx] = dict(AX, domain=[x0 / W, x1 / W], range=xr, anchor="y" + sx,
                                     tickmode="array", tickvals=[v for v, _ in xlab],
                                     ticktext=[t for _, t in xlab], minor=mn(xminor))
    layout_axes["yaxis" + sx] = dict(AX, domain=[1 - y1 / H, 1 - y0 / H], range=yr, anchor="x" + sx,
                                     tickmode="array", tickvals=[v for v, _ in ylab],
                                     ticktext=[t for _, t in ylab], minor=mn(yminor))


def ax(n):
    sx = "" if n == 1 else str(n)
    return dict(xaxis="x" + sx, yaxis="y" + sx)


SITE_LAB = [(1, "1"), (100, "100")]
SITE_MINOR = [10.9, 20.8, 30.7, 40.6, 50.5, 60.4, 70.3, 80.2, 90.1]

add_axes(1, (57, 494, 75, 185), [-5, 5], [-1, 1],
         [(-5, "-5"), (5, "5")], [-4, -3, -2, -1, 0, 1, 2, 3, 4],
         [(-1, "-1"), (1, "1")], [-0.5, 0, 0.5])
add_axes(2, (55, 497, 260, 369), [1, 100], [0, 0.26], SITE_LAB, SITE_MINOR,
         [(0, "0"), (0.2, "0.2")], [0.05, 0.1, 0.15, 0.25])
add_axes(3, (612, 799, 64, 212), [-1.2, 1.2], [-1.2, 1.2],
         [(-1, "-1"), (1, "1")], [-0.5, 0, 0.5], [(-1, "-1"), (1, "1")], [-0.5, 0, 0.5])
add_axes(4, (865, 1051, 64, 210), [-5, 5], [-0.8, 0.8],
         [(-4, "-4"), (4, "4")], [-2, 0, 2], [(-0.8, "-0.8"), (0.8, "0.8")], [-0.4, 0, 0.4])
add_axes(5, (610, 1052, 262, 371), [1, 100], [0, 0.32], SITE_LAB, SITE_MINOR,
         [(0, "0"), (0.3, "0.3")], [0.1, 0.2])
add_axes(6, (56, 243, 493, 643), [-2, 3], [-2.52, 2.63],
         [(-2, "-2"), (3, "3")], [-1.5, -1, -0.5, 0, 0.5, 1, 1.5, 2, 2.5],
         [(-2, "-2"), (2, "2")], [-1.5, -1, -0.5, 0, 0.5, 1, 1.5])
add_axes(7, (304, 489, 493, 639), [-6, 6], [-1, 1],
         [(-6, "-6"), (6, "6")], [-4, -2, 0, 2, 4], [(-1, "-1"), (1, "1")], [-0.5, 0, 0.5])
add_axes(8, (54, 496, 694, 805), [1, 100], [0, 0.46], SITE_LAB, SITE_MINOR,
         [(0, "0"), (0.4, "0.4")], [0.1, 0.2, 0.3])
add_axes(9, (609, 797, 493, 639), [-1.2, 1.2], [-1.2, 1.2],
         [(-1, "-1"), (1, "1")], [-0.5, 0, 0.5], [(-1, "-1"), (1, "1")], [-0.5, 0, 0.5])
add_axes(10, (861, 1048, 493, 639), [-8, 8], [-0.15, 0.15],
         [(-8, "-8"), (8, "8")], [-6, -4, -2, 0, 2, 4, 6],
         [(-0.15, "-0.15"), (0.15, "0.15")], [-0.1, -0.05, 0, 0.05, 0.1])
add_axes(11, (607, 1047, 693, 805), [1, 100], [0, 0.175], SITE_LAB, SITE_MINOR,
         [(0, "0"), (0.15, "0.15")], [0.05, 0.1])

fig = go.Figure()


def dots(n, xs, ys, color, size, **kw):
    fig.add_trace(go.Scatter(x=xs, y=ys, mode="markers", marker=dict(color=color, size=size, line=dict(width=0)),
                             showlegend=False, cliponaxis=False, hoverinfo="skip", **ax(n), **kw))


def curve(n, xs, ys, color, width, shape="linear", **kw):
    fig.add_trace(go.Scatter(x=xs, y=ys, mode="lines", line=dict(color=color, width=width, shape=shape),
                             showlegend=False, cliponaxis=False, hoverinfo="skip", **ax(n), **kw))


def legend_line(n, name, color, width, legend):
    fig.add_trace(go.Scatter(x=[None], y=[None], mode="lines", line=dict(color=color, width=width),
                             name=name, showlegend=True, legend=legend, **ax(n)))


# (a)
curve(1, A_PBC_RE, A_PBC_IM, C_PBC, 4)
dots(1, A_OBC_RE, A_OBC_IM, C_OBC, 5.4)

# (b)
legend_line(2, "Bulk modes", C_BULK, 4, "legend")
curve(2, SITES, BULK_FILL, C_BULK, 1.2, fill="tozeroy", fillcolor=C_BULK)
curve(2, SITES, BULK_2, C_BULK, 1.3)
curve(2, SITES, BULK_1, C_BULK, 1.3)
legend_line(2, "Topological edge modes", C_EDGE, 4, "legend")
curve(2, SITES, EDGE_B, C_EDGE, 3)

# (c)
curve(3, BZ_RE, BZ_IM, C_BZ, 2.5, shape="spline")
dots(3, C_GBZ_OUT_RE, C_GBZ_OUT_IM, C_GBZ, 4.8)
dots(3, C_GBZ_IN_RE, C_GBZ_IN_IM, C_GBZ, 4.8)

# (d)
curve(4, D_PBC_RE, D_PBC_IM, C_PBC, 3.5, shape="spline")
dots(4, D_OBC_H_RE, D_OBC_H_IM, C_OBC, 6.5)
dots(4, D_OBC_V_RE, D_OBC_V_IM, C_OBC, 6.5)

# (e)
legend_line(5, "Skin modes", C_SKIN_LEG, 4, "legend2")
curve(5, SITES, SKIN_E1, C_SKIN, 0.8, fill="tozeroy", fillcolor=C_SKIN_FILL)
curve(5, SITES, SKIN_E2, C_SKIN, 0.8)
curve(5, SITES[:60], SKIN_E3, C_SKIN, 0.8)
curve(5, SITES[:60], SKIN_E4, C_SKIN, 0.8)
curve(5, SITES[:60], SKIN_E5, C_SKIN, 0.8)
legend_line(5, "Topological edge modes", C_EDGE, 4, "legend2")
curve(5, SITES, EDGE_E, C_EDGE, 3)

# (f)
curve(6, BZ_RE, BZ_IM, C_BZ, 2.5, shape="spline")
dots(6, F_GBZ_A_RE, F_GBZ_A_IM, C_GBZ, 4.8)
dots(6, F_GBZ_B_RE, F_GBZ_B_IM, C_GBZ, 4.8)
dots(6, F_GBZ_C_RE, F_GBZ_C_IM, C_GBZ, 4.8)

# (g)
curve(7, G_PBC_RE, G_PBC_IM, C_PBC, 3.5, shape="spline")
dots(7, G_OBC_H_RE, G_OBC_H_IM, C_OBC, 5.5)
dots(7, G_OBC_V_RE, G_OBC_V_IM, C_OBC, 6)

# (h)
legend_line(8, "Skin modes", C_SKIN_LEG, 4, "legend3")
curve(8, SITES[20:], SKIN_H1, C_SKIN, 0.8, fill="tozeroy", fillcolor=C_SKIN_FILL)
curve(8, SITES[20:], SKIN_H2, C_SKIN, 0.8)
curve(8, SITES[20:], SKIN_H3, C_SKIN, 0.8)
curve(8, SITES[60:], SKIN_H4, C_SKIN, 0.8)
curve(8, SITES[80:], SKIN_H5, C_SKIN, 0.8)

# (i)
curve(9, BZ_RE, BZ_IM, C_BZ, 2.5, shape="spline")
dots(9, I_GBZ_OUT_RE, I_GBZ_OUT_IM, C_GBZ, 4.8)
dots(9, I_GBZ_IN_RE, I_GBZ_IN_IM, C_GBZ, 4.8)

# (j)
curve(10, J_PBC_RE, J_PBC_IM, C_PBC, 3, shape="spline")
dots(10, J_PBC_DOT_RE, J_PBC_DOT_IM, C_PBC, 3)
dots(10, J_OBC_RE, J_OBC_IM, C_OBC, 6)

# (k)
legend_line(11, "Skin modes", C_SKIN_LEG, 4, "legend4")
curve(11, SITES, SKIN_K1, C_SKIN, 0.8, fill="tozeroy", fillcolor=C_SKIN_FILL)
curve(11, SITES, SKIN_K2, C_SKIN, 0.8)
curve(11, SITES[:60], SKIN_K3, C_SKIN, 0.8)
curve(11, SITES[:60], SKIN_K4, C_SKIN, 0.8)
curve(11, SITES[:40], SKIN_K5, C_SKIN, 0.8)

# ---------------------------------------------------------------- text
ann = []


def txt(x, y, s, size=18, angle=0, anchor="center"):
    ann.append(dict(x=x / W, y=1 - y / H, xref="paper", yref="paper", text=s, showarrow=False,
                    font=dict(family=SERIF, size=size, color="black"), textangle=angle,
                    xanchor=anchor, yanchor="middle"))


# titles
txt(278, 11, "<b>Hermitian</b>", 26)
txt(835, 11, "<b>Phase <i>I</i></b>", 26)
txt(282, 443, "<b>Phase <i>II′</i></b>", 26)
txt(835, 443, "<b>Phase <i>III</i></b>", 26)

# panel labels
for lab, x, y in [("(a)", 24, 51), ("(b)", 22, 234), ("(c)", 578, 47), ("(d)", 826, 47),
                  ("(e)", 578, 240), ("(f)", 22, 478), ("(g)", 274, 478), ("(h)", 23, 673),
                  ("(i)", 574, 475), ("(j)", 820, 475), ("(k)", 578, 670)]:
    txt(x, y, lab, 25)

RE_E = "Re(<i>E</i>)"
IM_E = "Im(<i>E</i>)"
RE_B = "Re(<i>β</i>)"
IM_B = "Im(<i>β</i>)"
PSI = "|<i>ψ</i>|²"
SITE = "Site index"
for s, x, y, a in [(RE_E, 276, 197, 0), (IM_E, 46, 129, -90),
                   (SITE, 272, 382, 0), (PSI, 45, 320, -90),
                   (RE_B, 705, 222, 0), (IM_B, 597, 138, -90),
                   (RE_E, 958, 222, 0), (IM_E, 848, 137, -90),
                   (SITE, 831, 383, 0), (PSI, 591, 318, -90),
                   (RE_B, 148, 652, 0), (IM_B, 42, 568, -90),
                   (RE_E, 396, 652, 0), (IM_E, 292, 567, -90),
                   (SITE, 272, 818, 0), (PSI, 44, 749, -90),
                   (RE_B, 703, 651, 0), (IM_B, 597, 565, -90),
                   (RE_E, 957, 651, 0), (IM_E, 845, 565, -90),
                   (SITE, 829, 818, 0), (PSI, 587, 749, -90)]:
    txt(x, y, s, 18, a)


def legend_entry(x, y, color, label, sub=None, size=18):
    txt(x, y, '<span style="color:%s">•</span> %s' % (color, label), size, 0, "left")
    if sub:
        txt(x + 22, y + 6, sub, 12, 0, "left")


E_IT = "<i>E</i>"
for x1, x2, y, kind in [(395, 443, 58, "E"), (642, 717, 51, "BZ"), (883, 960, 46, "E"),
                        (85, 165, 480, "BZ"), (325, 406, 481, "E"), (635, 716, 480, "BZ"),
                        (876, 957, 480, "E")]:
    if kind == "E":
        legend_entry(x1, y, C_PBC, E_IT, "PBC")
        legend_entry(x2, y, C_OBC, E_IT, "OBC")
    else:
        legend_entry(x1, y, C_BZ, "BZ")
        legend_entry(x2, y, C_GBZ, "GBZ")


def leg(xpx, ypx):
    return dict(x=xpx / W, y=1 - ypx / H, xanchor="left", yanchor="top", bgcolor="rgba(0,0,0,0)",
                borderwidth=0, font=dict(family=SERIF, size=13, color="#222"), tracegroupgap=0,
                itemwidth=30, orientation="v")


fig.update_layout(
    width=W, height=H, margin=dict(l=0, r=0, t=0, b=0),
    paper_bgcolor="white", plot_bgcolor="white",
    annotations=ann,
    legend=leg(78, 260), legend2=leg(634, 261), legend3=leg(60, 702), legend4=leg(621, 703),
    hovermode=False,
    **layout_axes,
)

fig.write_html("out.html", config={"displayModeBar": False})
